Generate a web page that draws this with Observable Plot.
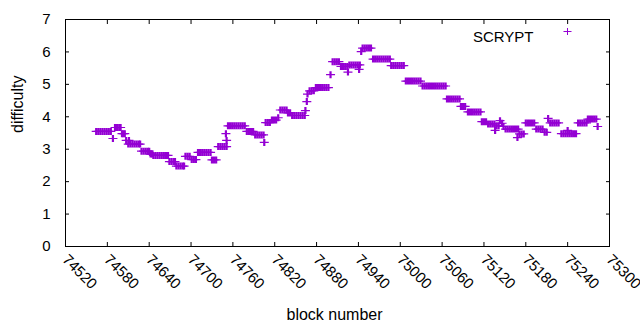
<!DOCTYPE html>
<html>
<head>
<meta charset="utf-8">
<script src="https://cdn.jsdelivr.net/npm/d3@7"></script>
<script src="https://cdn.jsdelivr.net/npm/@observablehq/plot@0.6"></script>
<style>
  html, body { margin: 0; padding: 0; background: #fff; }
  #chart svg { display: block; }
</style>
</head>
<body>
<div id="chart"></div>
<script>
const seriesName = "SCRYPT";
const xLabel = "block number";
const yLabel = "difficulty";
const xTicks = [74520, 74580, 74640, 74700, 74760, 74820, 74880, 74940, 75000, 75060, 75120, 75180, 75240, 75300];
const yTicks = [0, 1, 2, 3, 4, 5, 6, 7];

// block numbers
const blocks = [
  74564,74567,74570,74573,74576,74579,74582,74585,
  74588,
  74591,74594,74597,74599,
  74601,74603,74605,
  74607,74611,
  74610,74613,74616,74619,74622,74625,74627,
  74629,74632,74635,74638,74640,
  74642,74644,
  74646,74649,74652,74655,74658,74661,74664,74667,
  74669,74672,74675,74677,
  74679,74682,74685,74688,74690,
  74692,74695,74698,
  74701,74704,74707,
  74710,74713,74716,74719,74722,74725,74728,
  74730,74733,74736,
  74739,74742,74745,74748,74751,
  74750,74751,
  74753,74756,74759,74762,74765,74768,74771,74774,74777,
  74780,74783,74786,74789,
  74792,74795,74798,74801,74804,
  74805,
  74807,74810,74813,
  74816,74819,74822,
  74825,
  74828,74831,74834,74837,
  74839,74842,
  74845,74848,74851,74854,74857,74860,74863,
  74864,74866,74867,
  74870,74873,74876,
  74879,74882,74885,74888,74891,74894,74897,
  74900,
  74903,74906,74909,74912,
  74915,74918,74921,74924,
  74925,
  74927,74930,74933,74936,74939,74942,
  74941,74944,
  74946,74949,74952,74955,74958,
  74961,74964,74967,74970,74973,74976,74979,74982,74985,
  74987,74990,74993,74996,74999,75002,75005,
  75008,75011,75014,75017,75020,75023,75026,75029,
  75032,75035,75038,75041,75044,75047,75050,75053,75056,75059,75062,75065,
  75067,75070,75073,75076,75079,75082,75085,
  75087,75090,75093,
  75097,75100,75103,75106,75109,75112,75115,
  75117,75120,75123,
  75126,75129,75132,75135,
  75136,75138,75141,75143,75146,75148,
  75151,75154,75157,75160,75163,75166,75169,
  75168,
  75171,75174,75177,
  75180,75183,75186,75189,75192,
  75195,75198,75201,75204,
  75207,75210,
  75212,
  75215,75218,75221,75224,75227,
  75231,75234,75237,75240,75243,75246,75249,75252,
  75240,
  75255,75258,75261,75264,75267,
  75269,75272,75275,75278,75281,
  75283
];

// difficulty of each block above (same order)
const difficulty = [
  3.55,3.55,3.55,3.55,3.55,3.55,3.55,3.55,
  3.33,
  3.67,3.67,3.67,3.67,
  3.48,3.48,3.48,
  3.27,3.27,
  3.16,3.16,3.16,3.16,3.16,3.16,3.16,
  2.94,2.94,2.94,2.94,2.94,
  2.85,2.85,
  2.81,2.81,2.81,2.81,2.81,2.81,2.81,2.81,
  2.62,2.62,2.62,2.62,
  2.48,2.48,2.48,2.48,2.48,
  2.78,2.78,2.78,
  2.68,2.68,2.68,
  2.90,2.90,2.90,2.90,2.90,2.90,2.90,
  2.67,2.67,2.67,
  3.08,3.08,3.08,3.08,3.08,
  3.48,3.27,
  3.72,3.72,3.72,3.72,3.72,3.72,3.72,3.72,3.72,
  3.55,3.55,3.55,3.55,
  3.44,3.44,3.44,3.44,3.44,
  3.21,
  3.82,3.82,3.82,
  3.90,3.90,3.90,
  3.97,
  4.21,4.21,4.21,4.21,
  4.12,4.12,
  4.04,4.04,4.04,4.04,4.04,4.04,4.04,
  4.19,4.47,4.70,
  4.80,4.80,4.80,
  4.90,4.90,4.90,4.90,4.90,4.90,4.90,
  5.30,
  5.70,5.70,5.70,5.70,
  5.55,5.55,5.55,5.55,
  5.38,
  5.60,5.60,5.60,5.60,5.60,5.60,
  5.46,6.01,
  6.12,6.12,6.12,6.12,6.12,
  5.78,5.78,5.78,5.78,5.78,5.78,5.78,5.78,5.78,
  5.58,5.58,5.58,5.58,5.58,5.58,5.58,
  5.10,5.10,5.10,5.10,5.10,5.10,5.10,5.10,
  4.95,4.95,4.95,4.95,4.95,4.95,4.95,4.95,4.95,4.95,4.95,4.95,
  4.55,4.55,4.55,4.55,4.55,4.55,4.55,
  4.32,4.32,4.32,
  4.15,4.15,4.15,4.15,4.15,4.15,4.15,
  3.85,3.85,3.85,
  3.78,3.78,3.78,3.78,
  3.58,3.72,3.72,3.88,3.80,3.70,
  3.62,3.62,3.62,3.62,3.62,3.62,3.62,
  3.36,
  3.47,3.47,3.47,
  3.81,3.81,3.81,3.81,3.81,
  3.62,3.62,3.62,3.62,
  3.52,3.52,
  3.95,
  3.81,3.81,3.81,3.81,3.81,
  3.48,3.48,3.48,3.48,3.48,3.48,3.48,3.48,
  3.58,
  3.81,3.81,3.81,3.81,3.81,
  3.93,3.93,3.93,3.93,3.93,
  3.70
];

const data = blocks.map((b, i) => ({block: b, difficulty: difficulty[i]}));
const color = "#9400d3";
const font = "'Liberation Sans', Arial, sans-serif";

// gnuplot-style "+" point (filled): 8px arm, 7px tall, bar a little wide
// so that neighbouring points merge like the dense per-block original
const gnuPlus = {
  draw(context) {
    context.rect(-1.1, -3.5, 2.2, 7);
    context.rect(-4.5, -0.6, 9, 1.2);
  }
};
const legendPlus = {
  draw(context) {
    context.rect(-0.5, -3.5, 1, 7);
    context.rect(-4, -0.5, 8, 1);
  }
};

const chart = Plot.plot({
  width: 640,
  height: 330,
  marginLeft: 65,
  marginRight: 31,
  marginTop: 19,
  marginBottom: 84,
  style: {fontFamily: font, fontSize: "15px", color: "#000", background: "#fff"},
  x: {domain: [74520, 75300]},
  y: {domain: [0, 7]},
  marks: [
    Plot.frame({stroke: "#000", strokeWidth: 1}),
    // inward ticks, bottom and top (mirrored)
    Plot.axisX({ticks: xTicks, anchor: "bottom", tickSize: 4, dy: -4, text: null, label: null}),
    Plot.axisX({ticks: xTicks, anchor: "top", tickSize: 4, dy: 4, text: null, label: null}),
    // inward ticks, left and right (mirrored)
    Plot.axisY({ticks: yTicks, anchor: "left", tickSize: 4, dx: 4, text: null, label: null}),
    Plot.axisY({ticks: yTicks, anchor: "right", tickSize: 4, dx: -4, text: null, label: null}),
    // y tick labels
    Plot.axisY({ticks: yTicks, tickFormat: d => String(d), anchor: "left", tickSize: 0, tickPadding: 15, label: null, fontSize: 15}),
    // rotated x tick labels
    Plot.text(xTicks, {x: d => d, text: d => String(d), frameAnchor: "bottom", rotate: 45, textAnchor: "start", dy: 14, dx: -4, fontSize: 15, letterSpacing: "0.3px"}),
    // axis titles
    Plot.text([xLabel], {text: d => d, frameAnchor: "bottom", dy: 73, dx: -3, fontSize: 16}),
    Plot.text([yLabel], {text: d => d, frameAnchor: "left", rotate: -90, dx: -48, fontSize: 16, letterSpacing: "0.6px"}),
    // data
    Plot.dot(data, {x: "block", y: "difficulty", symbol: gnuPlus, fill: color, stroke: "none"}),
    // legend
    Plot.text([seriesName], {text: d => d, frameAnchor: "top-right", textAnchor: "end", dx: -76, dy: 12, fontSize: 15}),
    Plot.dot([seriesName], {frameAnchor: "top-right", dx: -42, dy: 12, symbol: legendPlus, fill: color, stroke: "none"})
  ]
});
document.getElementById("chart").appendChild(chart);
</script>
</body>
</html>
